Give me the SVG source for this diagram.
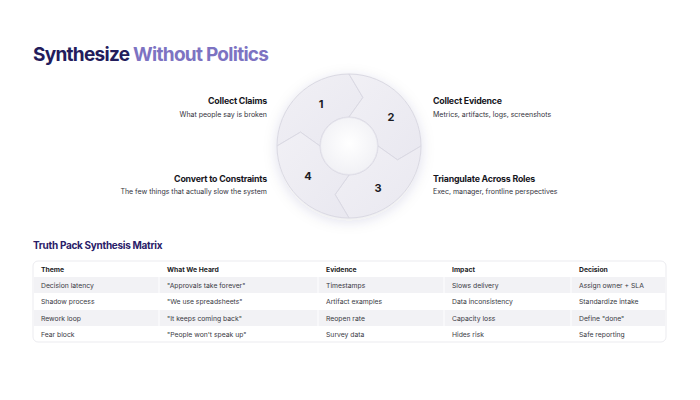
<svg xmlns="http://www.w3.org/2000/svg" width="700" height="400" viewBox="0 0 700 400">
<defs>
<filter id="sh" x="-30%" y="-30%" width="160%" height="160%">
<feDropShadow dx="0" dy="3" stdDeviation="7" flood-color="#3a3560" flood-opacity="0.13"/>
</filter>
<radialGradient id="hole" cx="50%" cy="45%" r="55%">
<stop offset="0" stop-color="#ffffff"/>
<stop offset="1" stop-color="#f1f1f5"/>
</radialGradient>
<linearGradient id="seg" x1="0" y1="0" x2="1" y2="1">
<stop offset="0" stop-color="#f1f0f5"/>
<stop offset="1" stop-color="#e9e8f0"/>
</linearGradient>
</defs>
<style>
text{font-family:Inter,"Liberation Sans",sans-serif}
.t1{font-size:19px;font-weight:700;fill:#231c5c;letter-spacing:-0.72px}
.t2{fill:#7d73c2}
.seg{fill:url(#seg);stroke:#dad9e3;stroke-width:1}
.num{font-size:11px;font-weight:700;fill:#1c1c24;text-anchor:middle}
.lh{font-size:8.8px;font-weight:700;fill:#16161d;letter-spacing:-0.2px}
.ls{font-size:7px;fill:#33333d}
.r{text-anchor:end}
.tt{font-size:10px;font-weight:700;fill:#2a2068;letter-spacing:-0.3px}
.th{font-size:6.8px;font-weight:700;fill:#1c1c24}
.td{font-size:6.8px;fill:#3a3a44}
.sh{fill:#f2f2f5}
</style>
<rect width="700" height="400" fill="#ffffff"/>
<text x="33" y="61" class="t1">Synthesize <tspan class="t2">Without Politics</tspan></text>
<g id="cycle" filter="url(#sh)">
<circle cx="349" cy="146" r="72" fill="#eeedf3"/>
</g>
<g id="seg1"><path class="seg" d="M277,146 A72,72 0 0 1 349,74 L362.9,97.5 L349,117 A29,29 0 0 0 320,146 L300.5,132.1 Z"/><text x="321" y="108" class="num">1</text></g>
<g id="seg2"><path class="seg" d="M349,74 A72,72 0 0 1 421,146 L397.5,159.9 L378,146 A29,29 0 0 0 349,117 L362.9,97.5 Z"/><text x="391" y="121" class="num">2</text></g>
<g id="seg3"><path class="seg" d="M421,146 A72,72 0 0 1 349,218 L335.1,194.5 L349,175 A29,29 0 0 0 378,146 L397.5,159.9 Z"/><text x="378" y="192" class="num">3</text></g>
<g id="seg4"><path class="seg" d="M349,218 A72,72 0 0 1 277,146 L300.5,132.1 L320,146 A29,29 0 0 0 349,175 L335.1,194.5 Z"/><text x="308" y="180" class="num">4</text></g>
<circle cx="349" cy="146" r="28.5" fill="url(#hole)" stroke="#e2e1ea" stroke-width="0.8"/>
<g id="step1"><text x="267" y="104" class="lh r">Collect Claims</text><text x="267" y="117" class="ls r">What people say is broken</text></g>
<g id="step2"><text x="433" y="104" class="lh">Collect Evidence</text><text x="433" y="117" class="ls">Metrics, artifacts, logs, screenshots</text></g>
<g id="step3"><text x="433" y="182" class="lh">Triangulate Across Roles</text><text x="433" y="194" class="ls">Exec, manager, frontline perspectives</text></g>
<g id="step4"><text x="267" y="182" class="lh r">Convert to Constraints</text><text x="267" y="194" class="ls r">The few things that actually slow the system</text></g>
<g id="connectors"></g>
<g id="table">
<text x="33" y="249" class="tt">Truth Pack Synthesis Matrix</text>
<rect x="33" y="261" width="633" height="81" rx="5" fill="#ffffff" stroke="#e6e6eb" stroke-width="0.8"/>
<rect x="34" y="277" width="124.5" height="16" class="sh"/><rect x="159.5" y="277" width="158" height="16" class="sh"/><rect x="318.5" y="277" width="125" height="16" class="sh"/><rect x="444.5" y="277" width="126" height="16" class="sh"/><rect x="571.5" y="277" width="93.5" height="16" class="sh"/>
<rect x="34" y="310" width="124.5" height="16" class="sh"/><rect x="159.5" y="310" width="158" height="16" class="sh"/><rect x="318.5" y="310" width="125" height="16" class="sh"/><rect x="444.5" y="310" width="126" height="16" class="sh"/><rect x="571.5" y="310" width="93.5" height="16" class="sh"/>
<text y="272" class="th"><tspan x="41">Theme</tspan><tspan x="167">What We Heard</tspan><tspan x="326">Evidence</tspan><tspan x="452">Impact</tspan><tspan x="579">Decision</tspan></text>
<text y="288" class="td"><tspan x="41">Decision latency</tspan><tspan x="167">"Approvals take forever"</tspan><tspan x="326">Timestamps</tspan><tspan x="452">Slows delivery</tspan><tspan x="579">Assign owner + SLA</tspan></text>
<text y="304" class="td"><tspan x="41">Shadow process</tspan><tspan x="167">"We use spreadsheets"</tspan><tspan x="326">Artifact examples</tspan><tspan x="452">Data inconsistency</tspan><tspan x="579">Standardize intake</tspan></text>
<text y="321" class="td"><tspan x="41">Rework loop</tspan><tspan x="167">"It keeps coming back"</tspan><tspan x="326">Reopen rate</tspan><tspan x="452">Capacity loss</tspan><tspan x="579">Define "done"</tspan></text>
<text y="337" class="td"><tspan x="41">Fear block</tspan><tspan x="167">"People won't speak up"</tspan><tspan x="326">Survey data</tspan><tspan x="452">Hides risk</tspan><tspan x="579">Safe reporting</tspan></text>
</g>
</svg>
